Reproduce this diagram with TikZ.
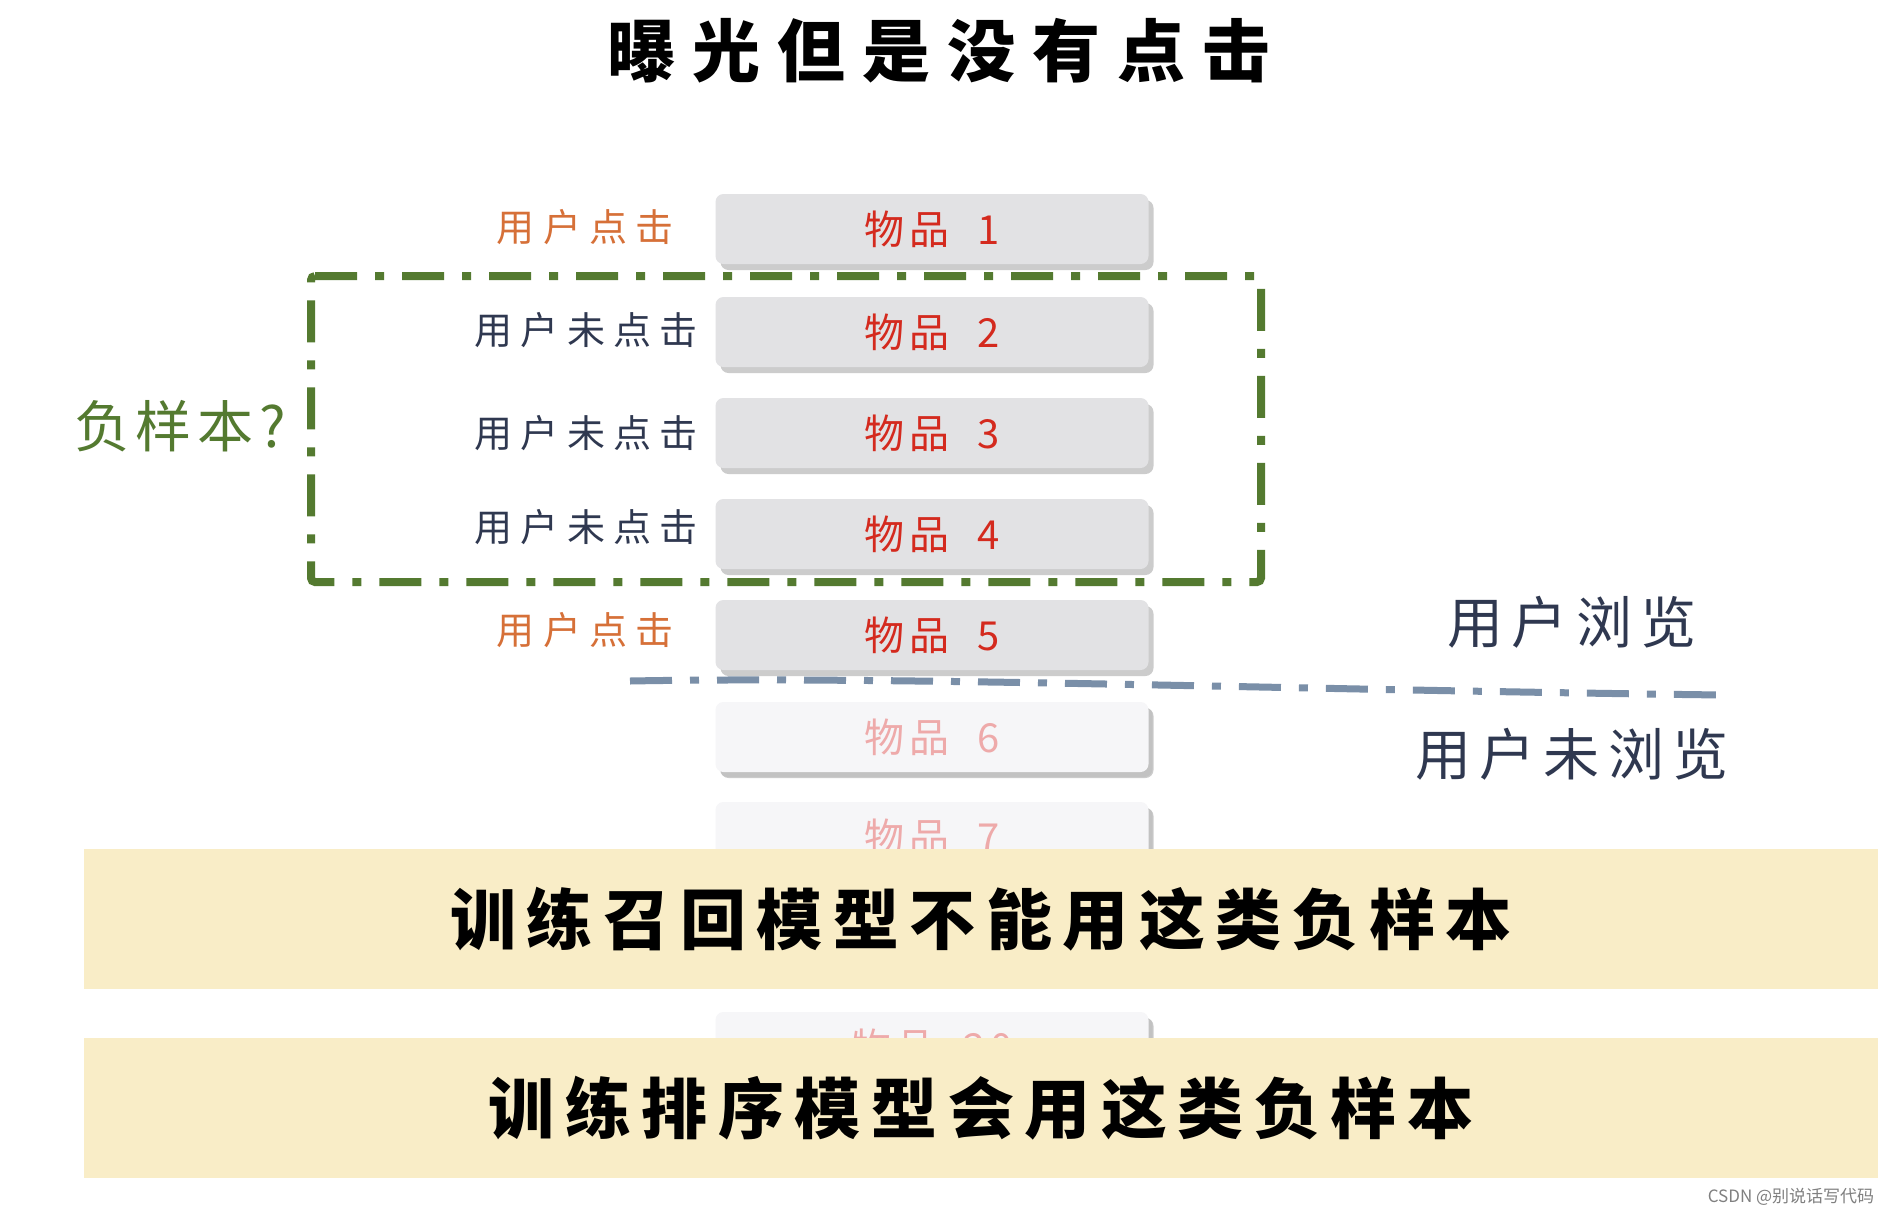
\documentclass[tikz,border=0pt]{standalone}
\usepackage{fontspec}
\setmainfont{Noto Sans CJK SC}
\usetikzlibrary{shadows}
\definecolor{boxgray}{RGB}{226,226,228}
\definecolor{fadebox}{RGB}{246,246,248}
\definecolor{itemred}{RGB}{212,42,30}
\definecolor{fadered}{RGB}{238,170,170}
\definecolor{clickorange}{RGB}{214,112,56}
\definecolor{navy}{RGB}{47,56,80}
\definecolor{leafgreen}{RGB}{84,122,48}
\definecolor{slateblue}{RGB}{122,143,168}
\definecolor{bandyellow}{RGB}{249,237,199}
\begin{document}
\begin{tikzpicture}[x=1pt,y=-1pt,
  item/.style={fill=boxgray, rounded corners=8pt, minimum width=433pt, minimum height=70pt, inner sep=0pt,
    text=itemred, font=\fontsize{40}{46}\selectfont\addfontfeatures{LetterSpace=12},
    drop shadow={shadow xshift=5pt, shadow yshift=-6pt, opacity=0.4, fill=gray}},
  fadeitem/.style={item, fill=fadebox, text=fadered,
    drop shadow={shadow xshift=4pt, shadow yshift=-5pt, opacity=0.12, fill=gray}},
  lbl/.style={anchor=east, inner sep=0pt, font=\fontsize{38}{44}\selectfont\addfontfeatures{LetterSpace=22}},
  bigl/.style={inner sep=0pt, text=navy, font=\fontsize{56}{64}\selectfont\addfontfeatures{LetterSpace=15}},
  band/.style={fill=bandyellow, minimum width=1794pt, minimum height=140pt, inner sep=0pt,
    font=\fontsize{66}{76}\selectfont\bfseries\addfontfeatures{LetterSpace=16}},
  greendash/.style={draw=leafgreen, line width=8pt, dash pattern=on 42pt off 18pt on 9pt off 18pt},
  bluedash/.style={draw=slateblue, line width=7pt, dash pattern=on 42pt off 18pt on 9pt off 18pt}
]
\useasboundingbox[fill=white] (0,0) rectangle (1900,1216);

% title
\node[inner sep=0pt, font=\fontsize{68}{78}\selectfont\bfseries\addfontfeatures{LetterSpace=25}] (title) at (939,51) {曝光但是没有点击};

% faded lower items (drawn first so bands cover them)
\node[fadeitem] (i6) at (932,737) {物品\hspace{0.7em}6};
\node[fadeitem] (i7) at (932,837) {物品\hspace{0.7em}7};
\node[fadeitem] (i20) at (932,1047) {物品\hspace{0.7em}20};

% items
\node[item] (i1) at (932,229) {物品\hspace{0.7em}1};
\node[item] (i2) at (932,332) {物品\hspace{0.7em}2};
\node[item] (i3) at (932,433) {物品\hspace{0.7em}3};
\node[item] (i4) at (932,534) {物品\hspace{0.7em}4};
\node[item] (i5) at (932,635) {物品\hspace{0.7em}5};

% left labels
\node[lbl, text=clickorange] (l1) at (674,227) {用户点击};
\node[lbl, text=navy] (l2) at (698,330) {用户未点击};
\node[lbl, text=navy] (l3) at (698,433) {用户未点击};
\node[lbl, text=navy] (l4) at (698,527) {用户未点击};
\node[lbl, text=clickorange] (l5) at (674,630) {用户点击};

% negative sample box
\draw[greendash, rounded corners=4pt] (311,276) -- (1261,276) -- (1261,582) -- (311,582) -- cycle;
\node[inner sep=0pt, text=leafgreen, font=\fontsize{56}{64}\selectfont\addfontfeatures{LetterSpace=10}] (neg) at (180,426) {负样本?};

% browse boundary
\coordinate (bl) at (630,681);
\coordinate (br) at (1723,695);
\draw[bluedash] (bl) .. controls (900,676) and (1300,690) .. (br);
\node[bigl] (seen) at (1572,622) {用户浏览};
\node[bigl] (unseen) at (1572,754) {用户未浏览};

% bands
\node[band] (b1) at (981,919) {训练召回模型不能用这类负样本};
\node[band] (b2) at (981,1108) {训练排序模型会用这类负样本};

% watermark
\node[inner sep=0pt, text=gray, font=\fontsize{17}{20}\selectfont] (wm) at (1791,1197) {CSDN @别说话写代码};
\end{tikzpicture}
\end{document}
